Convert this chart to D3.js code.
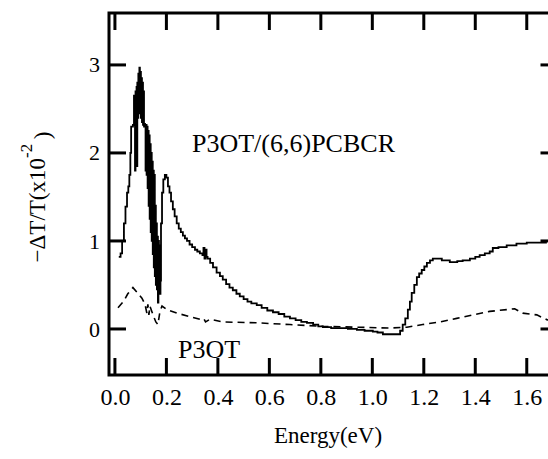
<!DOCTYPE html>
<html>
<head>
<meta charset="utf-8">
<script src="https://cdn.jsdelivr.net/npm/d3@7"></script>
<style>
  body { margin: 0; background: #fff; }
  svg { display: block; }
</style>
</head>
<body>
<svg id="chart" width="548" height="459"></svg>
<script>
// P3OT/(6,6)PCBCR, stepped trace
const blendEnergy = [
  0.015, 0.022, 0.028, 0.035, 0.041, 0.047, 0.052, 0.056, 0.060, 0.063,
  0.066, 0.070, 0.074, 0.076, 0.078, 0.080, 0.082, 0.084, 0.085, 0.087,
  0.089, 0.091, 0.093, 0.095, 0.097, 0.099, 0.101, 0.103, 0.105, 0.107,
  0.109, 0.111, 0.113, 0.115, 0.117, 0.119, 0.121, 0.123, 0.125, 0.127,
  0.129, 0.131, 0.133, 0.135, 0.137, 0.139, 0.141, 0.143, 0.145, 0.147,
  0.149, 0.151, 0.153, 0.155, 0.157, 0.159, 0.161, 0.163, 0.165, 0.167,
  0.169, 0.171, 0.173, 0.175, 0.177, 0.179, 0.183, 0.188, 0.194, 0.200,
  0.206, 0.212, 0.218, 0.225, 0.232, 0.240, 0.248, 0.256, 0.264, 0.272,
  0.280, 0.290, 0.300, 0.311, 0.320, 0.330, 0.340, 0.344, 0.348, 0.352,
  0.356, 0.360, 0.370, 0.381, 0.395, 0.408, 0.419, 0.432, 0.445, 0.458,
  0.472, 0.485, 0.500, 0.515, 0.530, 0.551, 0.570, 0.592, 0.614, 0.636,
  0.658, 0.680, 0.702, 0.724, 0.746, 0.770, 0.790, 0.808, 0.840, 0.874,
  0.905, 0.940, 0.970, 1.002, 1.020, 1.041, 1.070, 1.095, 1.108, 1.118,
  1.128, 1.138, 1.146, 1.153, 1.163, 1.173, 1.182, 1.192, 1.202, 1.212,
  1.224, 1.235, 1.250, 1.270, 1.301, 1.330, 1.351, 1.379, 1.400, 1.417,
  1.437, 1.456, 1.468, 1.490, 1.522, 1.560, 1.600, 1.640, 1.678
]
const blendSignal = [
  0.82, 0.86, 1.00, 1.20, 1.39, 1.55, 1.62, 1.75, 2.00, 2.30,
  2.30, 2.32, 2.65, 2.35, 1.80, 2.70, 2.35, 2.75, 1.85, 2.80,
  2.40, 2.90, 2.50, 2.97, 2.45, 2.92, 2.40, 2.85, 2.35, 2.80,
  2.32, 2.70, 2.30, 2.33, 2.30, 1.80, 2.32, 1.75, 2.30, 1.60,
  2.25, 1.40, 2.20, 1.25, 2.10, 1.10, 2.00, 1.00, 1.90, 0.85,
  1.80, 0.70, 1.75, 0.60, 1.40, 0.50, 1.20, 0.45, 1.05, 0.30,
  1.00, 0.42, 0.95, 0.40, 0.55, 1.20, 1.55, 1.70, 1.75, 1.72,
  1.62, 1.55, 1.45, 1.36, 1.28, 1.20, 1.14, 1.10, 1.06, 1.03,
  1.00, 0.96, 0.93, 0.90, 0.88, 0.86, 0.84, 0.92, 0.80, 0.90,
  0.82, 0.80, 0.75, 0.70, 0.64, 0.60, 0.56, 0.51, 0.47, 0.44,
  0.40, 0.37, 0.34, 0.31, 0.29, 0.27, 0.24, 0.21, 0.19, 0.17,
  0.14, 0.12, 0.10, 0.08, 0.07, 0.05, 0.03, 0.02, 0.01, 0.01,
  0.00, -0.01, -0.02, -0.03, -0.04, -0.06, -0.06, -0.06, -0.02, 0.05,
  0.12, 0.22, 0.31, 0.41, 0.50, 0.59, 0.63, 0.67, 0.71, 0.75,
  0.78, 0.80, 0.80, 0.78, 0.76, 0.77, 0.78, 0.80, 0.82, 0.84,
  0.86, 0.88, 0.92, 0.93, 0.95, 0.97, 0.98, 0.98, 0.98
]

// P3OT alone, dashed trace
const p3otEnergy = [
  0.012, 0.035, 0.050, 0.070, 0.085, 0.105, 0.117, 0.124, 0.128, 0.132,
  0.136, 0.148, 0.159, 0.167, 0.175, 0.183, 0.202, 0.241, 0.291, 0.330,
  0.345, 0.352, 0.369, 0.419, 0.551, 0.680, 0.808, 0.940, 1.068, 1.134,
  1.196, 1.262, 1.328, 1.390, 1.456, 1.522, 1.553, 1.584, 1.639, 1.682
]
const p3otSignal = [
  0.24, 0.32, 0.40, 0.47, 0.42, 0.35, 0.28, 0.18, 0.28, 0.16,
  0.26, 0.16, 0.08, 0.05, 0.20, 0.26, 0.22, 0.18, 0.14, 0.11,
  0.12, 0.08, 0.11, 0.08, 0.07, 0.05, 0.03, 0.02, 0.01, 0.02,
  0.05, 0.08, 0.12, 0.16, 0.20, 0.22, 0.23, 0.18, 0.16, 0.10
]

const xTicks = [0.0, 0.2, 0.4, 0.6, 0.8, 1.0, 1.2, 1.4, 1.6]
const yTicks = [0, 1, 2, 3]

const serif = '"Liberation Serif", "Times New Roman", serif'
const svg = d3.select('#chart')
const plotLeft = 109, plotRight = 552.5, plotTop = 13, plotBottom = 375
const tickLen = 17

//scales
const xScale = d3.scaleLinear().domain([-0.023, 1.7]).range([plotLeft, plotRight])
const yScale = d3.scaleLinear().domain([-0.523, 3.59]).range([plotBottom, plotTop])

// axes give the labels; tick marks drawn as paths below
const xAxis = d3.axisBottom(xScale).tickValues(xTicks).tickFormat(d3.format('.1f'))
  .tickSize(0).tickPadding(13)
const yAxis = d3.axisLeft(yScale).tickValues(yTicks).tickFormat(d3.format('d'))
  .tickSize(0).tickPadding(9)

svg.append('g').attr('transform', `translate(0, ${plotBottom})`).call(xAxis)
  .attr('font-family', serif).attr('font-size', 24)
  .call(g => g.select('.domain').remove())
  .call(g => g.selectAll('.tick text').attr('fill', '#000'))
svg.append('g').attr('transform', `translate(${plotLeft}, 0)`).call(yAxis)
  .attr('font-family', serif).attr('font-size', 22)
  .call(g => g.select('.domain').remove())
  .call(g => g.selectAll('.tick text').attr('fill', '#000'))

// inward tick marks on all four sides
const tickMark = (sel, cls, data, d) => sel.selectAll('.' + cls).data(data)
  .join('path').attr('class', cls).attr('d', d)
  .attr('fill', 'none').attr('stroke', '#000').attr('stroke-width', 3)
const tickGroup = svg.append('g')
tickMark(tickGroup, 'xb', xTicks, v => `M${xScale(v)},${plotBottom}V${plotBottom - tickLen}`)
tickMark(tickGroup, 'xt', xTicks, v => `M${xScale(v)},${plotTop}V${plotTop + tickLen}`)
tickMark(tickGroup, 'yl', yTicks, v => `M${plotLeft},${yScale(v)}H${plotLeft + tickLen}`)
tickMark(tickGroup, 'yr', yTicks, v => `M${plotRight},${yScale(v)}H${plotRight - 12}`)

// frame
svg.append('rect')
  .attr('x', plotLeft).attr('y', plotTop)
  .attr('width', plotRight - plotLeft).attr('height', plotBottom - plotTop)
  .attr('fill', 'none').attr('stroke', '#000').attr('stroke-width', 3)

const blend = blendEnergy.map((e, i) => [e, blendSignal[i]])
const p3ot = p3otEnergy.map((e, i) => [e, p3otSignal[i]])

const stepLine = d3.line()
  .x(d => xScale(d[0])).y(d => yScale(d[1]))
  .curve(d3.curveStepAfter)
const plainLine = d3.line()
  .x(d => xScale(d[0])).y(d => yScale(d[1]))

svg.append('path').datum(blend)
  .attr('d', stepLine)
  .attr('fill', 'none').attr('stroke', '#000').attr('stroke-width', 1.8)

svg.append('path').datum(p3ot)
  .attr('d', plainLine)
  .attr('fill', 'none').attr('stroke', '#000').attr('stroke-width', 1.6)
  .attr('stroke-dasharray', '7,5')

// labels
const label = (x, y, size, str) => svg.append('text')
  .attr('x', x).attr('y', y).attr('font-family', serif)
  .attr('font-size', size).attr('fill', '#000').text(str)

label(192, 152, 26, 'P3OT/(6,6)PCBCR')
label(178, 358, 26, 'P3OT')
label(328, 443, 23, 'Energy(eV)').attr('text-anchor', 'middle')

const yLabel = svg.append('text')
  .attr('transform', 'translate(45, 197) rotate(-90)')
  .attr('text-anchor', 'middle').attr('font-family', serif)
  .attr('font-size', 23).attr('fill', '#000')
yLabel.append('tspan').text('\u2212\u0394T/T(x10')
yLabel.append('tspan').attr('dy', '-0.75em').attr('font-size', 17).text('-2')
yLabel.append('tspan').attr('dy', '0.75em').text('\u2009)')
</script>
</body>
</html>
